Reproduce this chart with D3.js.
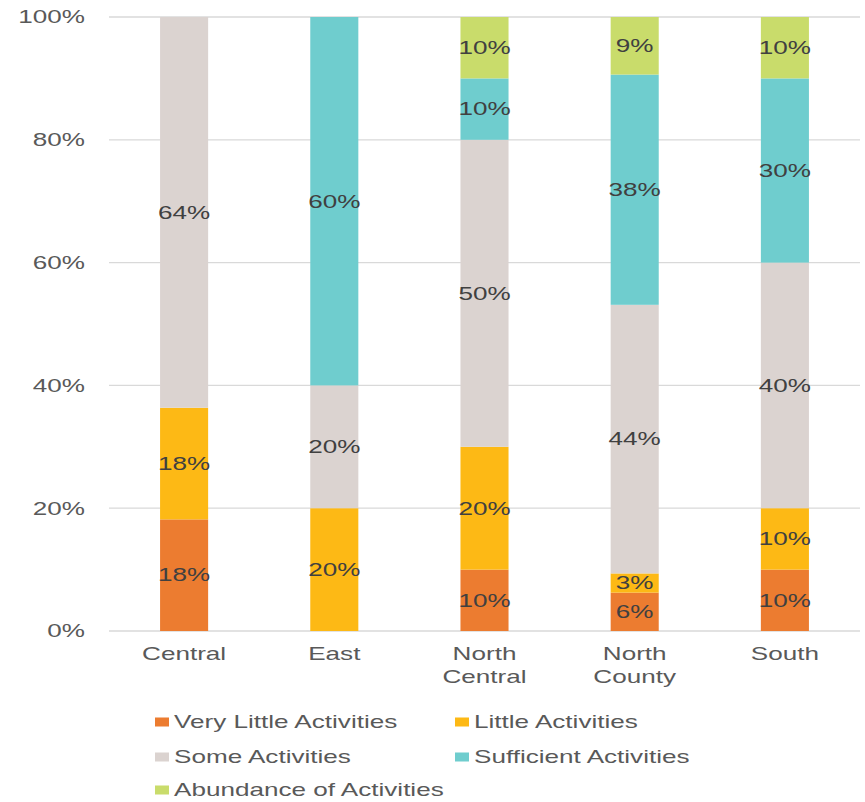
<!DOCTYPE html>
<html lang="en">
<head>
  <meta charset="UTF-8" />
  <title>Activities by Region</title>
  <script src="https://d3js.org/d3.v7.min.js"></script>
  <style>
    body { margin: 0; background: #fff; font-family: "Liberation Sans", Arial, sans-serif; }
    svg { display: block; }
    .grid line { stroke: #d9d9d9; stroke-width: 1.3; }
    .tick-label { fill: #595959; font-size: 18px; }
    .seg-label { fill: #404040; font-size: 18px; }
    .legend-text { fill: #595959; font-size: 18px; }
  </style>
</head>
<body>
<svg id="chart" width="865" height="802"></svg>
<script>
// data
const regions = ["Central", "East", "North Central", "North County", "South"];
const series = ["Very Little Activities", "Little Activities", "Some Activities", "Sufficient Activities", "Abundance of Activities"];
const veryLittle = [18.18, 0, 10, 6.25, 10];
const little = [18.18, 20, 20, 3.125, 10];
const some = [63.64, 20, 50, 43.75, 40];
const sufficient = [0, 60, 10, 37.5, 30];
const abundance = [0, 0, 10, 9.375, 10];
const yTicks = [0, 20, 40, 60, 80, 100];
const colors = ["#ec7c30", "#fdb915", "#dbd3d0", "#6fcdce", "#c9dc6b"];

const sx = 1.45; // horizontal stretch of the reference text

const table = regions.map((r, i) => ({
  region: r,
  [series[0]]: veryLittle[i],
  [series[1]]: little[i],
  [series[2]]: some[i],
  [series[3]]: sufficient[i],
  [series[4]]: abundance[i]
}));

const svg = d3.select("#chart");
const margin = { left: 109, right: 5, top: 17, bottom: 171 };
const W = 865, H = 802;

const x = d3.scaleBand().domain(regions).range([margin.left, W - margin.right]).paddingInner(0.68).paddingOuter(0.34);
const y = d3.scaleLinear().domain([0, 100]).range([H - margin.bottom, margin.top]);
const color = d3.scaleOrdinal().domain(series).range(colors);

// gridlines
svg.append("g").attr("class", "grid")
  .selectAll("line").data(yTicks).join("line")
  .attr("x1", margin.left).attr("x2", W - margin.right)
  .attr("y1", d => y(d)).attr("y2", d => y(d));

// y labels
svg.append("g").selectAll("text").data(yTicks).join("text")
  .attr("class", "tick-label")
  .attr("text-anchor", "end")
  .attr("dy", "0.35em")
  .attr("transform", d => `translate(85,${y(d)}) scale(${sx},1)`)
  .text(d => d + "%");

const stacked = d3.stack().keys(series)(table);

const layer = svg.append("g").selectAll("g").data(stacked).join("g")
  .attr("fill", d => color(d.key));

layer.selectAll("rect").data(d => d).join("rect")
  .attr("x", d => x(d.data.region))
  .attr("width", x.bandwidth())
  .attr("y", d => y(d[1]))
  .attr("height", d => y(d[0]) - y(d[1]));

// segment labels
svg.append("g").selectAll("g").data(stacked).join("g")
  .selectAll("text").data(d => d.filter(v => v[1] - v[0] > 0)).join("text")
  .attr("class", "seg-label")
  .attr("text-anchor", "middle")
  .attr("dy", "0.35em")
  .attr("transform", d => `translate(${x(d.data.region) + x.bandwidth() / 2},${y((d[0] + d[1]) / 2)}) scale(${sx},1)`)
  .text(d => Math.round(d[1] - d[0]) + "%");

// x labels
svg.append("g").selectAll("text").data(regions).join("text")
  .attr("class", "tick-label")
  .attr("text-anchor", "middle")
  .attr("transform", d => `translate(${x(d) + x.bandwidth() / 2},660) scale(${sx},1)`)
  .selectAll("tspan").data(d => d.split(" ")).join("tspan")
  .attr("x", 0)
  .attr("y", (d, i) => i * 23)
  .text(d => d);

// legend
const legendPos = [[155, 722], [455, 722], [155, 757], [455, 757], [155, 790]];
const legend = svg.append("g").selectAll("g").data(series).join("g")
  .attr("transform", (d, i) => `translate(${legendPos[i][0]},${legendPos[i][1]})`);
legend.append("rect")
  .attr("x", 0).attr("y", -4.5).attr("width", 14).attr("height", 9)
  .attr("fill", d => color(d));
legend.append("text")
  .attr("class", "legend-text")
  .attr("dy", "0.35em")
  .attr("transform", `translate(19,0) scale(${sx},1)`)
  .text(d => d);
</script>
</body>
</html>
